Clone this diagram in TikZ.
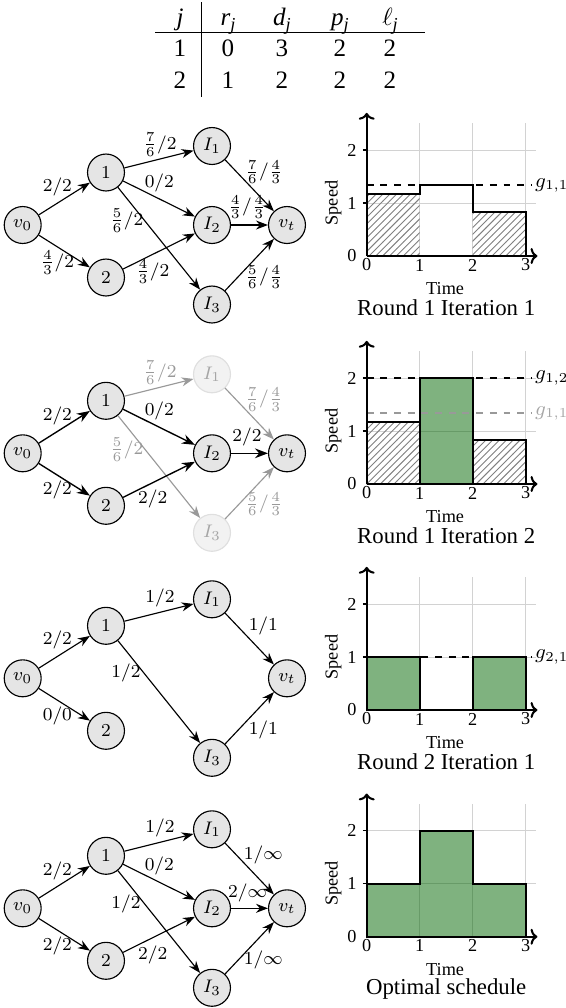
\documentclass[tikz,border=0pt]{standalone}
\usepackage{fontspec}
\newfontfamily\tms{Liberation Serif}
\usetikzlibrary{arrows.meta,patterns}
\newcommand{\sbj}{\raisebox{-0.5ex}{\fontsize{8}{9}\selectfont\itshape j}}
\newcommand{\plotgrid}{%
  \foreach \i in {1,2,3} {\draw[gridl] (\i,0) -- (\i,2.5);}
  \foreach \j in {1,2} {\draw[gridl] (0,\j) -- (3.2,\j);}}
\newcommand{\plotaxes}[2]{%
  \draw[axisl] (0,0) -- (0,2.7);
  \draw[axisl] (0,0) -- (3.22,0);
  \foreach \j in {1,2} {\draw[line width=0.5pt] (-0.07,\j) -- (0,\j);}
  \foreach \j in {0,1,2} {\node[tickl] (#1y\j) at (-0.28,\j) {\j};}
  \foreach \i in {0,1,2,3} {\node[tickl] (#1x\i) at (\i,-0.17) {\i};}
  \node[tickl,rotate=90] (#1sp) at (-0.63,1) {Speed};
  \node[tickl] (#1tm) at (1.48,-0.62) {Time};
  \node[capl] (#1cap) at (1.5,-0.98) {#2};}
\begin{document}
\begin{tikzpicture}[x=0.4386pt,y=-0.4386pt,
  vert/.style={circle,draw=black,fill=gray!20,line width=0.5pt,minimum size=16.2pt,inner sep=0pt,font=\footnotesize},
  fvert/.style={vert,draw=gray!25,fill=gray!10,text=black!35},
  edge/.style={-{Stealth},line width=0.5pt},
  bedge/.style={edge,line width=0.6pt},
  fedge/.style={edge,draw=black!40},
  lbl/.style={midway,inner sep=0pt,font=\footnotesize},
  flbl/.style={lbl,text=black!40},
  gridl/.style={draw=gray!35,line width=0.4pt},
  stepl/.style={line width=0.9pt,line join=miter},
  greenf/.style={fill=green!40!black,fill opacity=0.5},
  hatch/.style={pattern=north east lines,pattern color=gray},
  gline/.style={dashed,line width=0.9pt},
  axisl/.style={line width=0.9pt,-{To[length=3pt,width=7pt]}},
  tickl/.style={font={\tms\fontsize{8}{9}\selectfont},inner sep=0pt},
  capl/.style={font={\tms\fontsize{10}{12}\selectfont},inner sep=0pt},
  glab/.style={anchor=west,inner sep=0pt,font=\small},
  tbl/.style={font={\tms\fontsize{11}{13}\selectfont},anchor=base,inner sep=0pt}]
\useasboundingbox (0,0) rectangle (566,1008);

% ---------- table ----------
\node[tbl] (hj) at (180,25) {\itshape j};
\node[tbl] (hr) at (228,25) {\itshape r\sbj};
\node[tbl] (hd) at (282,25) {\itshape d\sbj};
\node[tbl] (hp) at (340,25) {\itshape p\sbj};
\node[tbl] (hl) at (390,25) {$\ell$\sbj};
\node[tbl] (a1) at (180,56.7) {1};
\node[tbl] (a2) at (228,56.7) {0};
\node[tbl] (a3) at (282,56.7) {3};
\node[tbl] (a4) at (340,56.7) {2};
\node[tbl] (a5) at (390,56.7) {2};
\node[tbl] (b1) at (180,88.3) {2};
\node[tbl] (b2) at (228,88.3) {1};
\node[tbl] (b3) at (282,88.3) {2};
\node[tbl] (b4) at (340,88.3) {2};
\node[tbl] (b5) at (390,88.3) {2};
\draw[line width=0.5pt] (155,32.7) -- (425,32.7);
\draw[line width=0.5pt] (201.7,2) -- (201.7,97);

% ---------- graph 1 ----------
\begin{scope}[shift={(22.7,225)}]
\node[vert] (Av) at (0,0) {$v_0$};
\node[vert] (A1) at (83.3,-52.5) {$1$};
\node[vert] (A2) at (83.3,52.5) {$2$};
\node[vert] (AI1) at (189.3,-79) {$I_1$};
\node[vert] (AI2) at (189.3,0) {$I_2$};
\node[vert] (AI3) at (189.3,79.5) {$I_3$};
\node[vert] (At) at (264.3,0) {$v_t$};
\draw[edge] (Av) -- node[lbl,shift={(-7,-11.5)}] {$2/2$} (A1);
\draw[edge] (Av) -- node[lbl,shift={(-7,11.5)}] {$\frac{4}{3}/2$} (A2);
\draw[edge] (A1) -- node[lbl,shift={(1,-14.5)}] {$\frac{7}{6}/2$} (AI1);
\draw[edge] (A1) -- node[lbl,shift={(0.3,-15.8)}] {$0/2$} (AI2);
\draw[edge] (A1) -- node[lbl,shift={(-32.3,-18)}] {$\frac{5}{6}/2$} (AI3);
\draw[edge] (A2) -- node[lbl,shift={(-6.3,20.3)}] {$\frac{4}{3}/2$} (AI2);
\draw[edge] (AI1) -- node[lbl,shift={(14.5,-13.5)}] {$\frac{7}{6}/\frac{4}{3}$} (At);
\draw[edge] (AI2) -- node[lbl,shift={(-2.5,-18)}] {$\frac{4}{3}/\frac{4}{3}$} (At);
\draw[edge] (AI3) -- node[lbl,shift={(14.5,12.3)}] {$\frac{5}{6}/\frac{4}{3}$} (At);
\end{scope}

% ---------- graph 2 ----------
\begin{scope}[shift={(22.7,453.3)}]
\node[vert] (Bv) at (0,0) {$v_0$};
\node[vert] (B1) at (83.3,-52.5) {$1$};
\node[vert] (B2) at (83.3,52.5) {$2$};
\node[fvert] (BI1) at (189.3,-79) {$I_1$};
\node[vert] (BI2) at (189.3,0) {$I_2$};
\node[fvert] (BI3) at (189.3,79.5) {$I_3$};
\node[vert] (Bt) at (264.3,0) {$v_t$};
\draw[bedge] (Bv) -- node[lbl,shift={(-7,-11.5)}] {$2/2$} (B1);
\draw[bedge] (Bv) -- node[lbl,shift={(-7,10)}] {$2/2$} (B2);
\draw[fedge] (B1) -- node[flbl,shift={(1,-15)}] {$\frac{7}{6}/2$} (BI1);
\draw[bedge] (B1) -- node[lbl,shift={(0.3,-15.8)}] {$0/2$} (BI2);
\draw[fedge] (B1) -- node[flbl,shift={(-32.3,-17)}] {$\frac{5}{6}/2$} (BI3);
\draw[bedge] (B2) -- node[lbl,shift={(-6.3,19)}] {$2/2$} (BI2);
\draw[fedge] (BI1) -- node[flbl,shift={(14.5,-14.5)}] {$\frac{7}{6}/\frac{4}{3}$} (Bt);
\draw[bedge] (BI2) -- node[lbl,shift={(-2.5,-16)}] {$2/2$} (Bt);
\draw[fedge] (BI3) -- node[flbl,shift={(14.5,11)}] {$\frac{5}{6}/\frac{4}{3}$} (Bt);
\end{scope}

% ---------- graph 3 ----------
\begin{scope}[shift={(22.7,678.3)}]
\node[vert] (Cv) at (0,0) {$v_0$};
\node[vert] (C1) at (83.3,-52.5) {$1$};
\node[vert] (C2) at (83.3,52.5) {$2$};
\node[vert] (CI1) at (189.3,-79) {$I_1$};
\node[vert] (CI3) at (189.3,79.5) {$I_3$};
\node[vert] (Ct) at (264.3,0) {$v_t$};
\draw[edge] (Cv) -- node[lbl,shift={(-7,-12)}] {$2/2$} (C1);
\draw[edge] (Cv) -- node[lbl,shift={(-7,11.5)}] {$0/0$} (C2);
\draw[edge] (C1) -- node[lbl,shift={(1,-14.5)}] {$1/2$} (CI1);
\draw[edge] (C1) -- node[lbl,shift={(-33,-19)}] {$1/2$} (CI3);
\draw[edge] (CI1) -- node[lbl,shift={(13.8,-12.5)}] {$1/1$} (Ct);
\draw[edge] (CI3) -- node[lbl,shift={(13.8,12)}] {$1/1$} (Ct);
\end{scope}

% ---------- graph 4 ----------
\begin{scope}[shift={(22.7,908.3)}]
\node[vert] (Dv) at (0,0) {$v_0$};
\node[vert] (D1) at (83.3,-52.5) {$1$};
\node[vert] (D2) at (83.3,52.5) {$2$};
\node[vert] (DI1) at (189.3,-79) {$I_1$};
\node[vert] (DI2) at (189.3,0) {$I_2$};
\node[vert] (DI3) at (189.3,79.5) {$I_3$};
\node[vert] (Dt) at (264.3,0) {$v_t$};
\draw[edge] (Dv) -- node[lbl,shift={(-7,-11.5)}] {$2/2$} (D1);
\draw[edge] (Dv) -- node[lbl,shift={(-7,11.5)}] {$2/2$} (D2);
\draw[edge] (D1) -- node[lbl,shift={(1,-14.5)}] {$1/2$} (DI1);
\draw[edge] (D1) -- node[lbl,shift={(0.3,-15.8)}] {$0/2$} (DI2);
\draw[edge] (D1) -- node[lbl,shift={(-33,-18)}] {$1/2$} (DI3);
\draw[edge] (D2) -- node[lbl,shift={(-6.3,20)}] {$2/2$} (DI2);
\draw[edge] (DI1) -- node[lbl,shift={(13.8,-13.5)}] {$1/\infty$} (Dt);
\draw[edge] (DI2) -- node[lbl,shift={(-2,-15)}] {$2/\infty$} (Dt);
\draw[edge] (DI3) -- node[lbl,shift={(13.8,11.5)}] {$1/\infty$} (Dt);
\end{scope}

% ---------- plot 1 ----------
\begin{scope}[shift={(366.7,256)},x={(23.25pt,0)},y={(0,23.25pt)}]
\plotgrid
\fill[hatch] (0,0) rectangle (1,7/6);
\fill[hatch] (2,0) rectangle (3,5/6);
\draw[stepl] (0,7/6) -- (1,7/6) -- (1,4/3) -- (2,4/3) -- (2,5/6) -- (3,5/6) -- (3,0);
\draw[gline] (0,4/3) -- (3.1,4/3);
\node[glab] (g11) at (3.17,4/3) {$g_{1,1}$};
\plotaxes{P}{Round 1 Iteration 1}
\end{scope}

% ---------- plot 2 ----------
\begin{scope}[shift={(366.7,484)},x={(23.25pt,0)},y={(0,23.25pt)}]
\plotgrid
\fill[hatch] (0,0) rectangle (1,7/6);
\fill[hatch] (2,0) rectangle (3,5/6);
\draw[stepl,greenf] (1,0) rectangle (2,2);
\draw[stepl] (0,7/6) -- (1,7/6);
\draw[stepl] (2,5/6) -- (3,5/6) -- (3,0);
\draw[gline,draw=black!40] (0,4/3) -- (3.1,4/3);
\node[glab,text=black!35] (g11b) at (3.17,4/3) {$g_{1,1}$};
\draw[gline] (0,2) -- (3.1,2);
\node[glab] (g12) at (3.17,2) {$g_{1,2}$};
\plotaxes{Q}{Round 1 Iteration 2}
\end{scope}

% ---------- plot 3 ----------
\begin{scope}[shift={(366.7,710)},x={(23.25pt,0)},y={(0,23.25pt)}]
\plotgrid
\draw[stepl,greenf] (0,0) rectangle (1,1);
\draw[stepl,greenf] (2,0) rectangle (3,1);
\draw[gline] (0,1) -- (3.1,1);
\node[glab] (g21) at (3.17,1) {$g_{2,1}$};
\plotaxes{R}{Round 2 Iteration 1}
\end{scope}

% ---------- plot 4 ----------
\begin{scope}[shift={(366.7,936.7)},x={(23.25pt,0)},y={(0,23.25pt)}]
\plotgrid
\draw[stepl,greenf] (0,0) -- (0,1) -- (1,1) -- (1,2) -- (2,2) -- (2,1) -- (3,1) -- (3,0) -- cycle;
\plotaxes{S}{Optimal schedule}
\end{scope}
\end{tikzpicture}
\end{document}
